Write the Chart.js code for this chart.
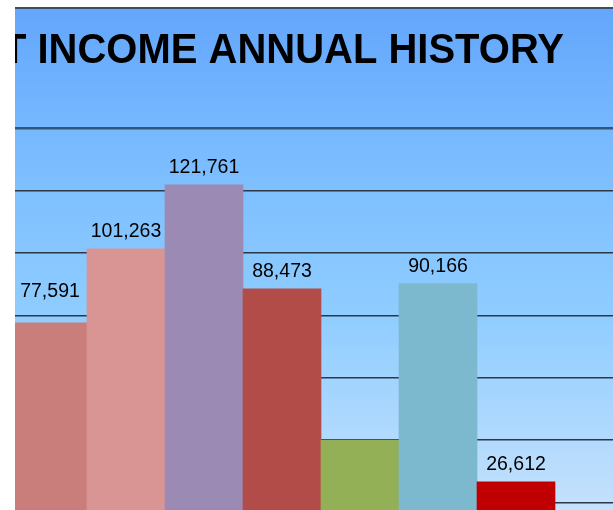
<!DOCTYPE html>
<html>
<head>
<meta charset="utf-8">
<script src="https://cdn.jsdelivr.net/npm/chart.js@4.4.1/dist/chart.umd.min.js"></script>
<style>
    html, body { margin: 0; padding: 0; background: #ffffff; overflow: hidden; }
    #frame {
        position: absolute; left: 15px; top: 7px;
        width: 598px; height: 501px;
        border-top: 2px solid #3b4d63;
        overflow: hidden;
    }
    #incomeChart { position: absolute; left: -6px; top: 0; }
</style>
</head>
<body>
<div id="frame">
    <canvas id="incomeChart" width="624" height="556"></canvas>
</div>
<script>
let years = ["2006", "2007", "2008", "2009", "2010", "2011", "2012", "2013"];
let netIncome = [77591, 101263, 121761, 88473, 40000, 90166, 26612, null];
let showValue = [true, true, true, true, false, true, true, false];
let barColors = ['#c97e7c', '#d99594', '#9b8ab4', '#b24c48', '#93b057', '#7cb9cf', '#c00000', '#c00000'];
let chartTitle = "NET INCOME ANNUAL HISTORY";

let ctx = document.getElementById('incomeChart').getContext('2d');

//Gradient background + title drawn on the canvas
const backdrop = {
    id: 'backdrop',
    beforeDraw(chart) {
        const c = chart.ctx;
        const g = c.createLinearGradient(0, 0, 0, chart.height);
        g.addColorStop(0, '#63a6fc');
        g.addColorStop(0.22, '#77b9ff');
        g.addColorStop(0.55, '#8fcdff');
        g.addColorStop(0.9, '#c5e1fd');
        g.addColorStop(1, '#cde6fc');
        c.save();
        c.fillStyle = g;
        c.fillRect(0, 0, chart.width, chart.height);
        //title, squeezed a bit like the original
        c.scale(0.93, 1);
        c.font = 'bold 43px "Liberation Sans", Arial, sans-serif';
        c.fillStyle = '#000000';
        c.textAlign = 'right';
        c.textBaseline = 'alphabetic';
        c.fillText(chartTitle, 555 / 0.93, 54);
        c.restore();
    }
};

//Value labels above each bar
const valueLabels = {
    id: 'valueLabels',
    afterDatasetsDraw(chart) {
        const c = chart.ctx;
        const meta = chart.getDatasetMeta(0);
        c.save();
        c.font = '19.5px "Liberation Sans", Arial, sans-serif';
        c.fillStyle = '#000000';
        c.textAlign = 'center';
        c.textBaseline = 'alphabetic';
        meta.data.forEach(function (bar, i) {
            if (!showValue[i] || netIncome[i] == null) return;
            //first label sits higher in the original
            let lift = i === 0 ? 26 : 12;
            c.fillText(netIncome[i].toLocaleString('en-US'), bar.x + (i === 0 ? 2 : 0), bar.y - lift);
        });
        c.restore();
    }
};

var data = {
    labels: years,
    datasets: [
        {
            data: netIncome,
            backgroundColor: barColors,
            borderWidth: 0,
            categoryPercentage: 1.0,
            barPercentage: 1.0
        }
    ]
};

var options = {
    responsive: false,
    animation: false,
    layout: { padding: { top: 119, left: 0, right: 0, bottom: 0 } },
    plugins: {
        legend: { display: false },
        title: { display: false },
        tooltip: { enabled: false }
    },
    scales: {
        x: { display: false },
        y: {
            min: 0,
            max: 140000,
            ticks: { display: false, stepSize: 20000 },
            border: { display: false },
            grid: {
                drawTicks: false,
                lineWidth: function (c) { return c.tick && c.tick.value === 140000 ? 2.5 : 1.5; },
                color: function (c) { return c.tick && c.tick.value === 140000 ? '#33557a' : '#2c3848'; }
            }
        }
    }
};

let chart = new Chart(ctx, {
    type: 'bar',
    data: data,
    options: options,
    plugins: [backdrop, valueLabels]
});
</script>
</body>
</html>
